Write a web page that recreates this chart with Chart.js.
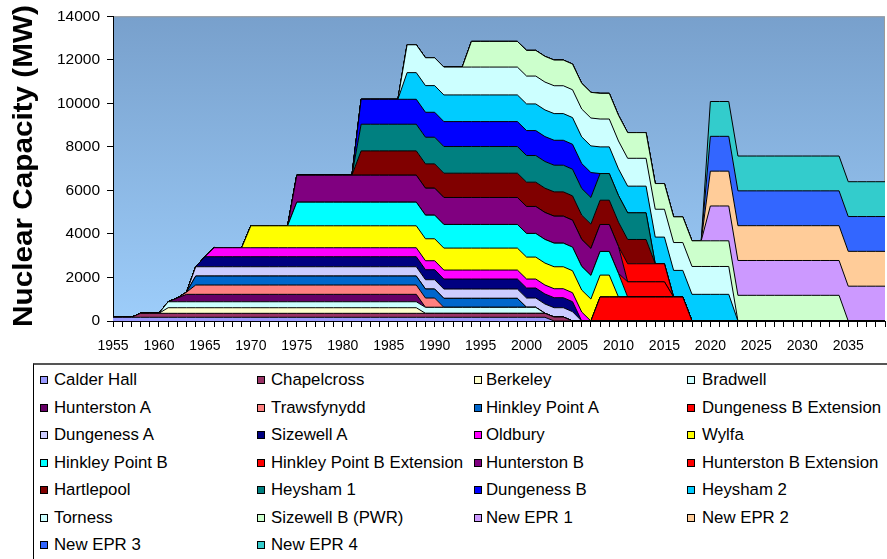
<!DOCTYPE html>
<html lang="en">
<head>
  <meta charset="UTF-8" />
  <title>UK Nuclear Capacity</title>
  <script src="https://cdn.jsdelivr.net/npm/chart.js"></script>
  <style>
    body { margin: 0; background: #fff; width: 887px; height: 559px; overflow: hidden; position: relative; font-family: "Liberation Sans", Arial, sans-serif; }
    #chart { position: absolute; left: 0; top: 0; }
    #ytitle { position: absolute; left: 23px; top: 166px; transform: translate(-50%, -50%) rotate(-90deg) scaleX(1.1);
              font: bold 27px "Liberation Sans", Arial, sans-serif; white-space: nowrap; color: #000; }
    #legend { position: absolute; left: 33px; top: 363px; width: 870px; height: 210px; border: 1px solid #000; border-top: 2px solid #555; box-sizing: border-box; }
    .item { position: absolute; height: 20px; line-height: 20px; font-size: 16.8px; white-space: nowrap; color: #000; }
    .sw { position: absolute; top: 6px; width: 6px; height: 6px; border: 1px solid #000; }
  </style>
</head>
<body>

<canvas id="chart" width="887" height="362"></canvas>
<div id="ytitle">Nuclear Capacity (MW)</div>
<div id="legend"></div>

<script>
  const years = [1955,1956,1957,1958,1959, 1960,1961,1962,1963,1964,1965,1966,1967,1968,1969, 1970,1971,1972,1973,1974,1975,1976,1977,1978,1979, 1980,1981,1982,1983,1984,1985,1986,1987,1988,1989, 1990,1991,1992,1993,1994,1995,1996,1997,1998,1999, 2000,2001,2002,2003,2004,2005,2006,2007,2008,2009, 2010,2011,2012,2013,2014,2015,2016,2017,2018,2019, 2020,2021,2022,2023,2024,2025,2026,2027,2028,2029, 2030,2031,2032,2033,2034,2035,2036,2037,2038,2039];

  // capacity in MW per year, one array per station (bottom of the stack first)
  const calderHall = [170,170,170,170,170, 170,170,170,170,170,170,170,170,170,170, 170,170,170,170,170,170,170,170,170,170, 170,170,170,170,170,170,170,170,170,170, 170,170,170,170,170,170,170,170,170,170, 170,170,170,0,0,0,0,0,0,0, 0,0,0,0,0,0,0,0,0,0, 0,0,0,0,0,0,0,0,0,0, 0,0,0,0,0,0,0,0,0,0];
  const chapelcross = [0,0,0,183,183, 183,183,183,183,183,183,183,183,183,183, 183,183,183,183,183,183,183,183,183,183, 183,183,183,183,183,183,183,183,183,183, 183,183,183,183,183,183,183,183,183,183, 183,183,183,183,183,0,0,0,0,0, 0,0,0,0,0,0,0,0,0,0, 0,0,0,0,0,0,0,0,0,0, 0,0,0,0,0,0,0,0,0,0];
  const berkeley = [0,0,0,0,0, 0,257,257,257,257,257,257,257,257,257, 257,257,257,257,257,257,257,257,257,257, 257,257,257,257,257,257,257,257,257,0, 0,0,0,0,0,0,0,0,0,0, 0,0,0,0,0,0,0,0,0,0, 0,0,0,0,0,0,0,0,0,0, 0,0,0,0,0,0,0,0,0,0, 0,0,0,0,0,0,0,0,0,0];
  const bradwell = [0,0,0,0,0, 0,275,275,275,275,275,275,275,275,275, 275,275,275,275,275,275,275,275,275,275, 275,275,275,275,275,275,275,275,275,275, 275,275,275,275,275,275,275,275,275,275, 275,275,0,0,0,0,0,0,0,0, 0,0,0,0,0,0,0,0,0,0, 0,0,0,0,0,0,0,0,0,0, 0,0,0,0,0,0,0,0,0,0];
  const hunterstonA = [0,0,0,0,0, 0,0,170,340,340,340,340,340,340,340, 340,340,340,340,340,340,340,340,340,340, 340,340,340,340,340,340,340,340,340,0, 0,0,0,0,0,0,0,0,0,0, 0,0,0,0,0,0,0,0,0,0, 0,0,0,0,0,0,0,0,0,0, 0,0,0,0,0,0,0,0,0,0, 0,0,0,0,0,0,0,0,0,0];
  const trawsfynydd = [0,0,0,0,0, 0,0,0,100,428,428,428,428,428,428, 428,428,428,428,428,428,428,428,428,428, 428,428,428,428,428,428,428,428,428,428, 428,0,0,0,0,0,0,0,0,0, 0,0,0,0,0,0,0,0,0,0, 0,0,0,0,0,0,0,0,0,0, 0,0,0,0,0,0,0,0,0,0, 0,0,0,0,0,0,0,0,0,0];
  const hinkleyA = [0,0,0,0,0, 0,0,0,0,413,413,413,413,413,413, 413,413,413,413,413,413,413,413,413,413, 413,413,413,413,413,413,413,413,413,413, 413,413,413,413,413,413,413,413,413,413, 0,0,0,0,0,0,0,0,0,0, 0,0,0,0,0,0,0,0,0,0, 0,0,0,0,0,0,0,0,0,0, 0,0,0,0,0,0,0,0,0,0];
  const dungenessBExt = [0,0,0,0,0, 0,0,0,0,0,0,0,0,0,0, 0,0,0,0,0,0,0,0,0,0, 0,0,0,0,0,0,0,0,0,0, 0,0,0,0,0,0,0,0,0,0, 0,0,0,0,0,0,0,0,1100,1100, 1100,1100,1100,1100,1100,1100,1100,1100,0,0, 0,0,0,0,0,0,0,0,0,0, 0,0,0,0,0,0,0,0,0,0];
  const dungenessA = [0,0,0,0,0, 0,0,0,0,428,428,428,428,428,428, 428,428,428,428,428,428,428,428,428,428, 428,428,428,428,428,428,428,428,428,428, 428,428,428,428,428,428,428,428,428,428, 428,428,428,428,428,428,0,0,0,0, 0,0,0,0,0,0,0,0,0,0, 0,0,0,0,0,0,0,0,0,0, 0,0,0,0,0,0,0,0,0,0];
  const sizewellA = [0,0,0,0,0, 0,0,0,0,0,459,459,459,459,459, 459,459,459,459,459,459,459,459,459,459, 459,459,459,459,459,459,459,459,459,459, 459,459,459,459,459,459,459,459,459,459, 459,459,459,459,459,459,0,0,0,0, 0,0,0,0,0,0,0,0,0,0, 0,0,0,0,0,0,0,0,0,0, 0,0,0,0,0,0,0,0,0,0];
  const oldbury = [0,0,0,0,0, 0,0,0,0,0,0,413,413,413,413, 413,413,413,413,413,413,413,413,413,413, 413,413,413,413,413,413,413,413,413,413, 413,413,413,413,413,413,413,413,413,413, 413,413,413,413,413,413,413,0,0,0, 0,0,0,0,0,0,0,0,0,0, 0,0,0,0,0,0,0,0,0,0, 0,0,0,0,0,0,0,0,0,0];
  const wylfa = [0,0,0,0,0, 0,0,0,0,0,0,0,0,0,0, 1009,1009,1009,1009,1009,1009,1009,1009,1009,1009, 1009,1009,1009,1009,1009,1009,1009,1009,1009,1009, 1009,1009,1009,1009,1009,1009,1009,1009,1009,1009, 1009,1009,1009,1009,1009,1009,1009,1009,1009,1009, 0,0,0,0,0,0,0,0,0,0, 0,0,0,0,0,0,0,0,0,0, 0,0,0,0,0,0,0,0,0,0];
  const hinkleyB = [0,0,0,0,0, 0,0,0,0,0,0,0,0,0,0, 0,0,0,0,0,1086,1086,1086,1086,1086, 1086,1086,1086,1086,1086,1086,1086,1086,1086,1086, 1086,1086,1086,1086,1086,1086,1086,1086,1086,1086, 1086,1086,1086,1086,1086,1086,1086,1086,1086,1086, 1086,0,0,0,0,0,0,0,0,0, 0,0,0,0,0,0,0,0,0,0, 0,0,0,0,0,0,0,0,0,0];
  const hinkleyBExt = [0,0,0,0,0, 0,0,0,0,0,0,0,0,0,0, 0,0,0,0,0,0,0,0,0,0, 0,0,0,0,0,0,0,0,0,0, 0,0,0,0,0,0,0,0,0,0, 0,0,0,0,0,0,0,0,0,0, 0,700,700,700,700,700,0,0,0,0, 0,0,0,0,0,0,0,0,0,0, 0,0,0,0,0,0,0,0,0,0];
  const hunterstonB = [0,0,0,0,0, 0,0,0,0,0,0,0,0,0,0, 0,0,0,0,0,1239,1239,1239,1239,1239, 1239,1239,1239,1239,1239,1239,1239,1239,1239,1239, 1239,1239,1239,1239,1239,1239,1239,1239,1239,1239, 1239,1239,1239,1239,1239,1239,1239,1239,1239,1239, 1239,0,0,0,0,0,0,0,0,0, 0,0,0,0,0,0,0,0,0,0, 0,0,0,0,0,0,0,0,0,0];
  const hunterstonBExt = [0,0,0,0,0, 0,0,0,0,0,0,0,0,0,0, 0,0,0,0,0,0,0,0,0,0, 0,0,0,0,0,0,0,0,0,0, 0,0,0,0,0,0,0,0,0,0, 0,0,0,0,0,0,0,0,0,0, 0,830,830,830,830,830,0,0,0,0, 0,0,0,0,0,0,0,0,0,0, 0,0,0,0,0,0,0,0,0,0];
  const hartlepool = [0,0,0,0,0, 0,0,0,0,0,0,0,0,0,0, 0,0,0,0,0,0,0,0,0,0, 0,0,1116,1116,1116,1116,1116,1116,1116,1116, 1116,1116,1116,1116,1116,1116,1116,1116,1116,1116, 1116,1116,1116,1116,1116,1116,1116,1116,1116,1116, 1116,1116,1116,1116,0,0,0,0,0,0, 0,0,0,0,0,0,0,0,0,0, 0,0,0,0,0,0,0,0,0,0];
  const heysham1 = [0,0,0,0,0, 0,0,0,0,0,0,0,0,0,0, 0,0,0,0,0,0,0,0,0,0, 0,0,1225,1225,1225,1225,1225,1225,1225,1225, 1225,1225,1225,1225,1225,1225,1225,1225,1225,1225, 1225,1225,1225,1225,1225,1225,1225,1225,1225,1225, 1225,1225,1225,1225,0,0,0,0,0,0, 0,0,0,0,0,0,0,0,0,0, 0,0,0,0,0,0,0,0,0,0];
  const dungenessB = [0,0,0,0,0, 0,0,0,0,0,0,0,0,0,0, 0,0,0,0,0,0,0,0,0,0, 0,0,1146,1146,1146,1146,1146,1146,1146,1146, 1146,1146,1146,1146,1146,1146,1146,1146,1146,1146, 1146,1146,1146,1146,1146,1146,1146,1146,0,0, 0,0,0,0,0,0,0,0,0,0, 0,0,0,0,0,0,0,0,0,0, 0,0,0,0,0,0,0,0,0,0];
  const heysham2 = [0,0,0,0,0, 0,0,0,0,0,0,0,0,0,0, 0,0,0,0,0,0,0,0,0,0, 0,0,0,0,0,0,0,1225,1225,1225, 1225,1225,1225,1225,1225,1225,1225,1225,1225,1225, 1225,1225,1225,1225,1225,1225,1225,1225,1225,1225, 1225,1225,1225,1225,1225,1225,1225,1225,1225,1225, 1225,1225,1225,0,0,0,0,0,0,0, 0,0,0,0,0,0,0,0,0,0];
  const torness = [0,0,0,0,0, 0,0,0,0,0,0,0,0,0,0, 0,0,0,0,0,0,0,0,0,0, 0,0,0,0,0,0,0,1280,1280,1280, 1280,1280,1280,1280,1280,1280,1280,1280,1280,1280, 1280,1280,1280,1280,1280,1280,1280,1280,1280,1280, 1280,1280,1280,1280,1280,1280,1280,1280,1280,1280, 1280,1280,1280,0,0,0,0,0,0,0, 0,0,0,0,0,0,0,0,0,0];
  const sizewellB = [0,0,0,0,0, 0,0,0,0,0,0,0,0,0,0, 0,0,0,0,0,0,0,0,0,0, 0,0,0,0,0,0,0,0,0,0, 0,0,0,0,1180,1180,1180,1180,1180,1180, 1180,1180,1180,1180,1180,1180,1180,1180,1180,1180, 1180,1180,1180,1180,1180,1180,1180,1180,1180,1180, 1180,1180,1180,1180,1180,1180,1180,1180,1180,1180, 1180,1180,1180,1180,1180,0,0,0,0,0];
  const newEpr1 = [0,0,0,0,0, 0,0,0,0,0,0,0,0,0,0, 0,0,0,0,0,0,0,0,0,0, 0,0,0,0,0,0,0,0,0,0, 0,0,0,0,0,0,0,0,0,0, 0,0,0,0,0,0,0,0,0,0, 0,0,0,0,0,0,0,0,0,0, 1600,1600,1600,1600,1600,1600,1600,1600,1600,1600, 1600,1600,1600,1600,1600,1600,1600,1600,1600,1600];
  const newEpr2 = [0,0,0,0,0, 0,0,0,0,0,0,0,0,0,0, 0,0,0,0,0,0,0,0,0,0, 0,0,0,0,0,0,0,0,0,0, 0,0,0,0,0,0,0,0,0,0, 0,0,0,0,0,0,0,0,0,0, 0,0,0,0,0,0,0,0,0,0, 1600,1600,1600,1600,1600,1600,1600,1600,1600,1600, 1600,1600,1600,1600,1600,1600,1600,1600,1600,1600];
  const newEpr3 = [0,0,0,0,0, 0,0,0,0,0,0,0,0,0,0, 0,0,0,0,0,0,0,0,0,0, 0,0,0,0,0,0,0,0,0,0, 0,0,0,0,0,0,0,0,0,0, 0,0,0,0,0,0,0,0,0,0, 0,0,0,0,0,0,0,0,0,0, 1600,1600,1600,1600,1600,1600,1600,1600,1600,1600, 1600,1600,1600,1600,1600,1600,1600,1600,1600,1600];
  const newEpr4 = [0,0,0,0,0, 0,0,0,0,0,0,0,0,0,0, 0,0,0,0,0,0,0,0,0,0, 0,0,0,0,0,0,0,0,0,0, 0,0,0,0,0,0,0,0,0,0, 0,0,0,0,0,0,0,0,0,0, 0,0,0,0,0,0,0,0,0,0, 1600,1600,1600,1600,1600,1600,1600,1600,1600,1600, 1600,1600,1600,1600,1600,1600,1600,1600,1600,1600];

  const yTicks = [0, 2000, 4000, 6000, 8000, 10000, 12000, 14000];

  const stations = [
    ['Calder Hall', calderHall, '#9999FF'],
    ['Chapelcross', chapelcross, '#993366'],
    ['Berkeley', berkeley, '#FFFFCC'],
    ['Bradwell', bradwell, '#CCFFFF'],
    ['Hunterston A', hunterstonA, '#660066'],
    ['Trawsfynydd', trawsfynydd, '#FF8080'],
    ['Hinkley Point A', hinkleyA, '#0066CC'],
    ['Dungeness B Extension', dungenessBExt, '#FF0000'],
    ['Dungeness A', dungenessA, '#CCCCFF'],
    ['Sizewell A', sizewellA, '#000080'],
    ['Oldbury', oldbury, '#FF00FF'],
    ['Wylfa', wylfa, '#FFFF00'],
    ['Hinkley Point B', hinkleyB, '#00FFFF'],
    ['Hinkley Point B Extension', hinkleyBExt, '#FF0000'],
    ['Hunterston B', hunterstonB, '#800080'],
    ['Hunterston B Extension', hunterstonBExt, '#FF0000'],
    ['Hartlepool', hartlepool, '#800000'],
    ['Heysham 1', heysham1, '#008080'],
    ['Dungeness B', dungenessB, '#0000FF'],
    ['Heysham 2', heysham2, '#00CCFF'],
    ['Torness', torness, '#CCFFFF'],
    ['Sizewell B (PWR)', sizewellB, '#CCFFCC'],
    ['New EPR 1', newEpr1, '#CC99FF'],
    ['New EPR 2', newEpr2, '#FFCC99'],
    ['New EPR 3', newEpr3, '#3366FF'],
    ['New EPR 4', newEpr4, '#33CCCC']
  ];

  const bad = stations.filter(s => s[1].length !== years.length).map(s => s[0] + ':' + s[1].length);
  if (bad.length) throw new Error('wrong lengths ' + bad.join(', '));

  // plot area gradient + thin grey frame like Excel
  const plotBg = {
    id: 'plotBg',
    beforeDraw(chart) {
      const { ctx, chartArea: a } = chart;
      const g = ctx.createLinearGradient(0, a.top, 0, a.bottom);
      g.addColorStop(0, '#78a0cc');
      g.addColorStop(1, '#9dcdfa');
      ctx.save();
      ctx.fillStyle = g;
      ctx.fillRect(a.left, a.top, a.right - a.left, a.bottom - a.top);
      ctx.strokeStyle = '#9a9a9a';
      ctx.lineWidth = 1;
      ctx.beginPath();
      ctx.moveTo(a.left, a.top + 0.5);
      ctx.lineTo(a.right - 0.5, a.top + 0.5);
      ctx.lineTo(a.right - 0.5, a.bottom);
      ctx.stroke();
      ctx.restore();
    }
  };

  new Chart(document.getElementById('chart'), {
    type: 'line',
    data: {
      labels: years,
      datasets: stations.map((s, i) => ({
        label: s[0],
        data: s[1],
        backgroundColor: s[2],
        borderColor: '#000',
        borderWidth: 1,
        pointRadius: 0,
        tension: 0,
        fill: i === 0 ? 'origin' : '-1'
      }))
    },
    options: {
      responsive: false,
      animation: false,
      layout: { padding: { left: 0, right: 2, top: 16, bottom: 0 } },
      plugins: { legend: { display: false }, tooltip: { enabled: false } },
      scales: {
        x: {
          offset: false,
          grid: { drawOnChartArea: false, tickLength: 6, color: '#000' },
          border: { color: '#000', width: 1 },
          ticks: {
            autoSkip: false, maxRotation: 0, padding: 11, color: '#000',
            font: { family: 'Liberation Sans', size: 14 },
            callback: (v, i) => (years[i] % 5 === 0 ? String(years[i]) : '')
          },
          afterFit: s => { s.height = 41; s.paddingLeft = 0; s.paddingRight = 0; }
        },
        y: {
          stacked: true,
          min: 0, max: 14000,
          afterBuildTicks: s => { s.ticks = yTicks.map(v => ({ value: v })); },
          grid: { drawOnChartArea: false, tickLength: 6, color: '#000' },
          border: { color: '#000', width: 1 },
          ticks: { padding: 7, color: '#000', font: { family: 'Liberation Sans', size: 15.5 },
                   callback: v => String(v) },
          afterFit: s => { s.width = 113; }
        }
      }
    },
    plugins: [plotBg]
  });

  // legend box, 4 columns like the Excel one
  const colSw = [39, 256, 473, 686];
  const colTx = [53, 270, 485, 701];
  const rowY = [378, 406, 433, 461, 488, 516, 543];
  const box = document.getElementById('legend');
  stations.forEach((s, i) => {
    const c = i % 4, r = Math.floor(i / 4);
    const it = document.createElement('div');
    it.className = 'item';
    it.style.left = (colSw[c] - 33) + 'px';
    it.style.top = (rowY[r] - 10 - 363) + 'px';
    it.innerHTML = '<span class="sw" style="left:0;background:' + s[2] + '"></span>' +
      '<span style="position:absolute;left:' + (colTx[c] - colSw[c]) + 'px">' + s[0] + '</span>';
    box.appendChild(it);
  });
</script>

</body>
</html>
